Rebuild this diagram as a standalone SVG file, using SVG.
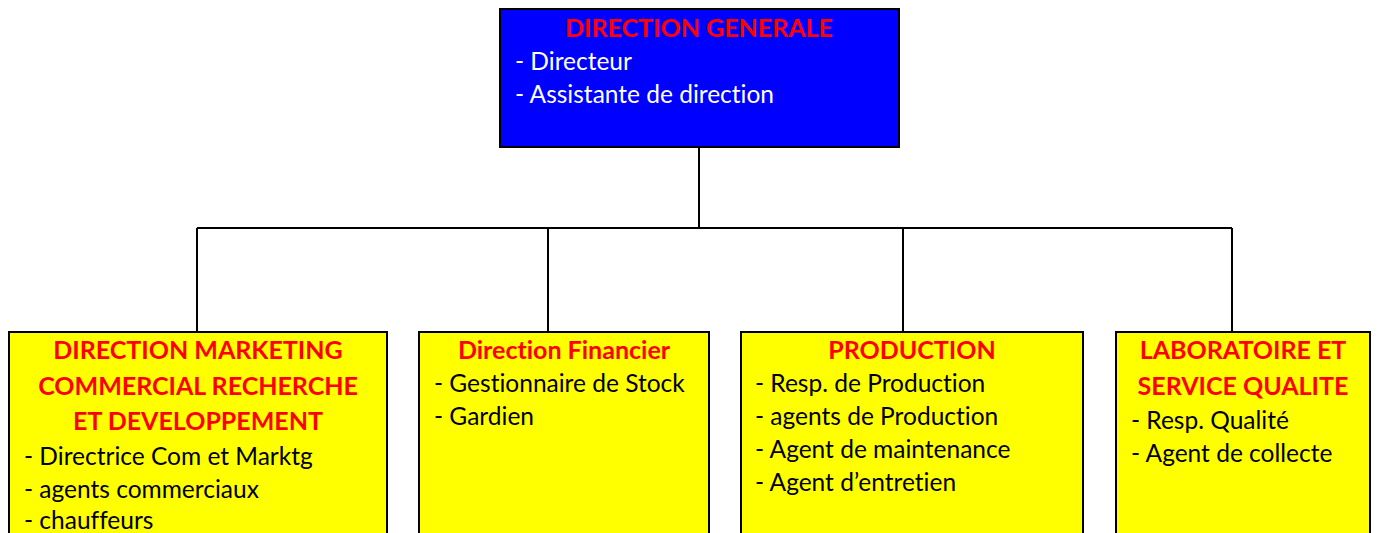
<svg xmlns="http://www.w3.org/2000/svg" width="1378" height="533" viewBox="0 0 1378 533">
<style>
.box{stroke:#000;stroke-width:2}
.top{fill:#0000ff}
.sub{fill:#ffff00}
text{font-family:Lato,"Open Sans","Liberation Sans",sans-serif;font-variant-ligatures:none;font-size:24.5px}
.t{font-weight:bold;font-size:25px;fill:#ff0000;text-anchor:middle}
.w{fill:#ffffff}
.b{fill:#000000}
.ln{stroke:#000;stroke-width:2;fill:none}
</style>
<rect width="1378" height="533" fill="#fff"/>
<g id="connectors">
<path class="ln" d="M699 147 V228 M197 228 H1232 M197 228 V332 M548 228 V332 M903 228 V332 M1232 228 V332"/>
</g>
<g id="direction-generale">
<rect class="box top" x="500" y="9" width="399" height="138"/>
<text class="t" x="699" y="37">DIRECTION GENERALE</text>
<text class="w" x="515" y="70">- Directeur</text>
<text class="w" x="515" y="103">- Assistante de direction</text>
</g>
<g id="marketing">
<rect class="box sub" x="9" y="332" width="378" height="210"/>
<text class="t" x="198" y="359">DIRECTION MARKETING</text>
<text class="t" x="198" y="395">COMMERCIAL RECHERCHE</text>
<text class="t" x="198" y="430">ET DEVELOPPEMENT</text>
<text class="b" x="24" y="465">- Directrice Com et Marktg</text>
<text class="b" x="24" y="498">- agents commerciaux</text>
<text class="b" x="24" y="529">- chauffeurs</text>
</g>
<g id="financier">
<rect class="box sub" x="419" y="332" width="290" height="210"/>
<text class="t" x="564" y="359">Direction Financier</text>
<text class="b" x="434" y="392">- Gestionnaire de Stock</text>
<text class="b" x="434" y="425">- Gardien</text>
</g>
<g id="production">
<rect class="box sub" x="741" y="332" width="342" height="210"/>
<text class="t" x="912" y="359">PRODUCTION</text>
<text class="b" x="755" y="392">- Resp. de Production</text>
<text class="b" x="755" y="425">- agents de Production</text>
<text class="b" x="755" y="458">- Agent de maintenance</text>
<text class="b" x="755" y="491">- Agent d’entretien</text>
</g>
<g id="laboratoire">
<rect class="box sub" x="1116" y="332" width="254" height="210"/>
<text class="t" x="1243" y="359">LABORATOIRE ET</text>
<text class="t" x="1243" y="395">SERVICE QUALITE</text>
<text class="b" x="1131" y="429">- Resp. Qualité</text>
<text class="b" x="1131" y="462">- Agent de collecte</text>
</g>
</svg>
